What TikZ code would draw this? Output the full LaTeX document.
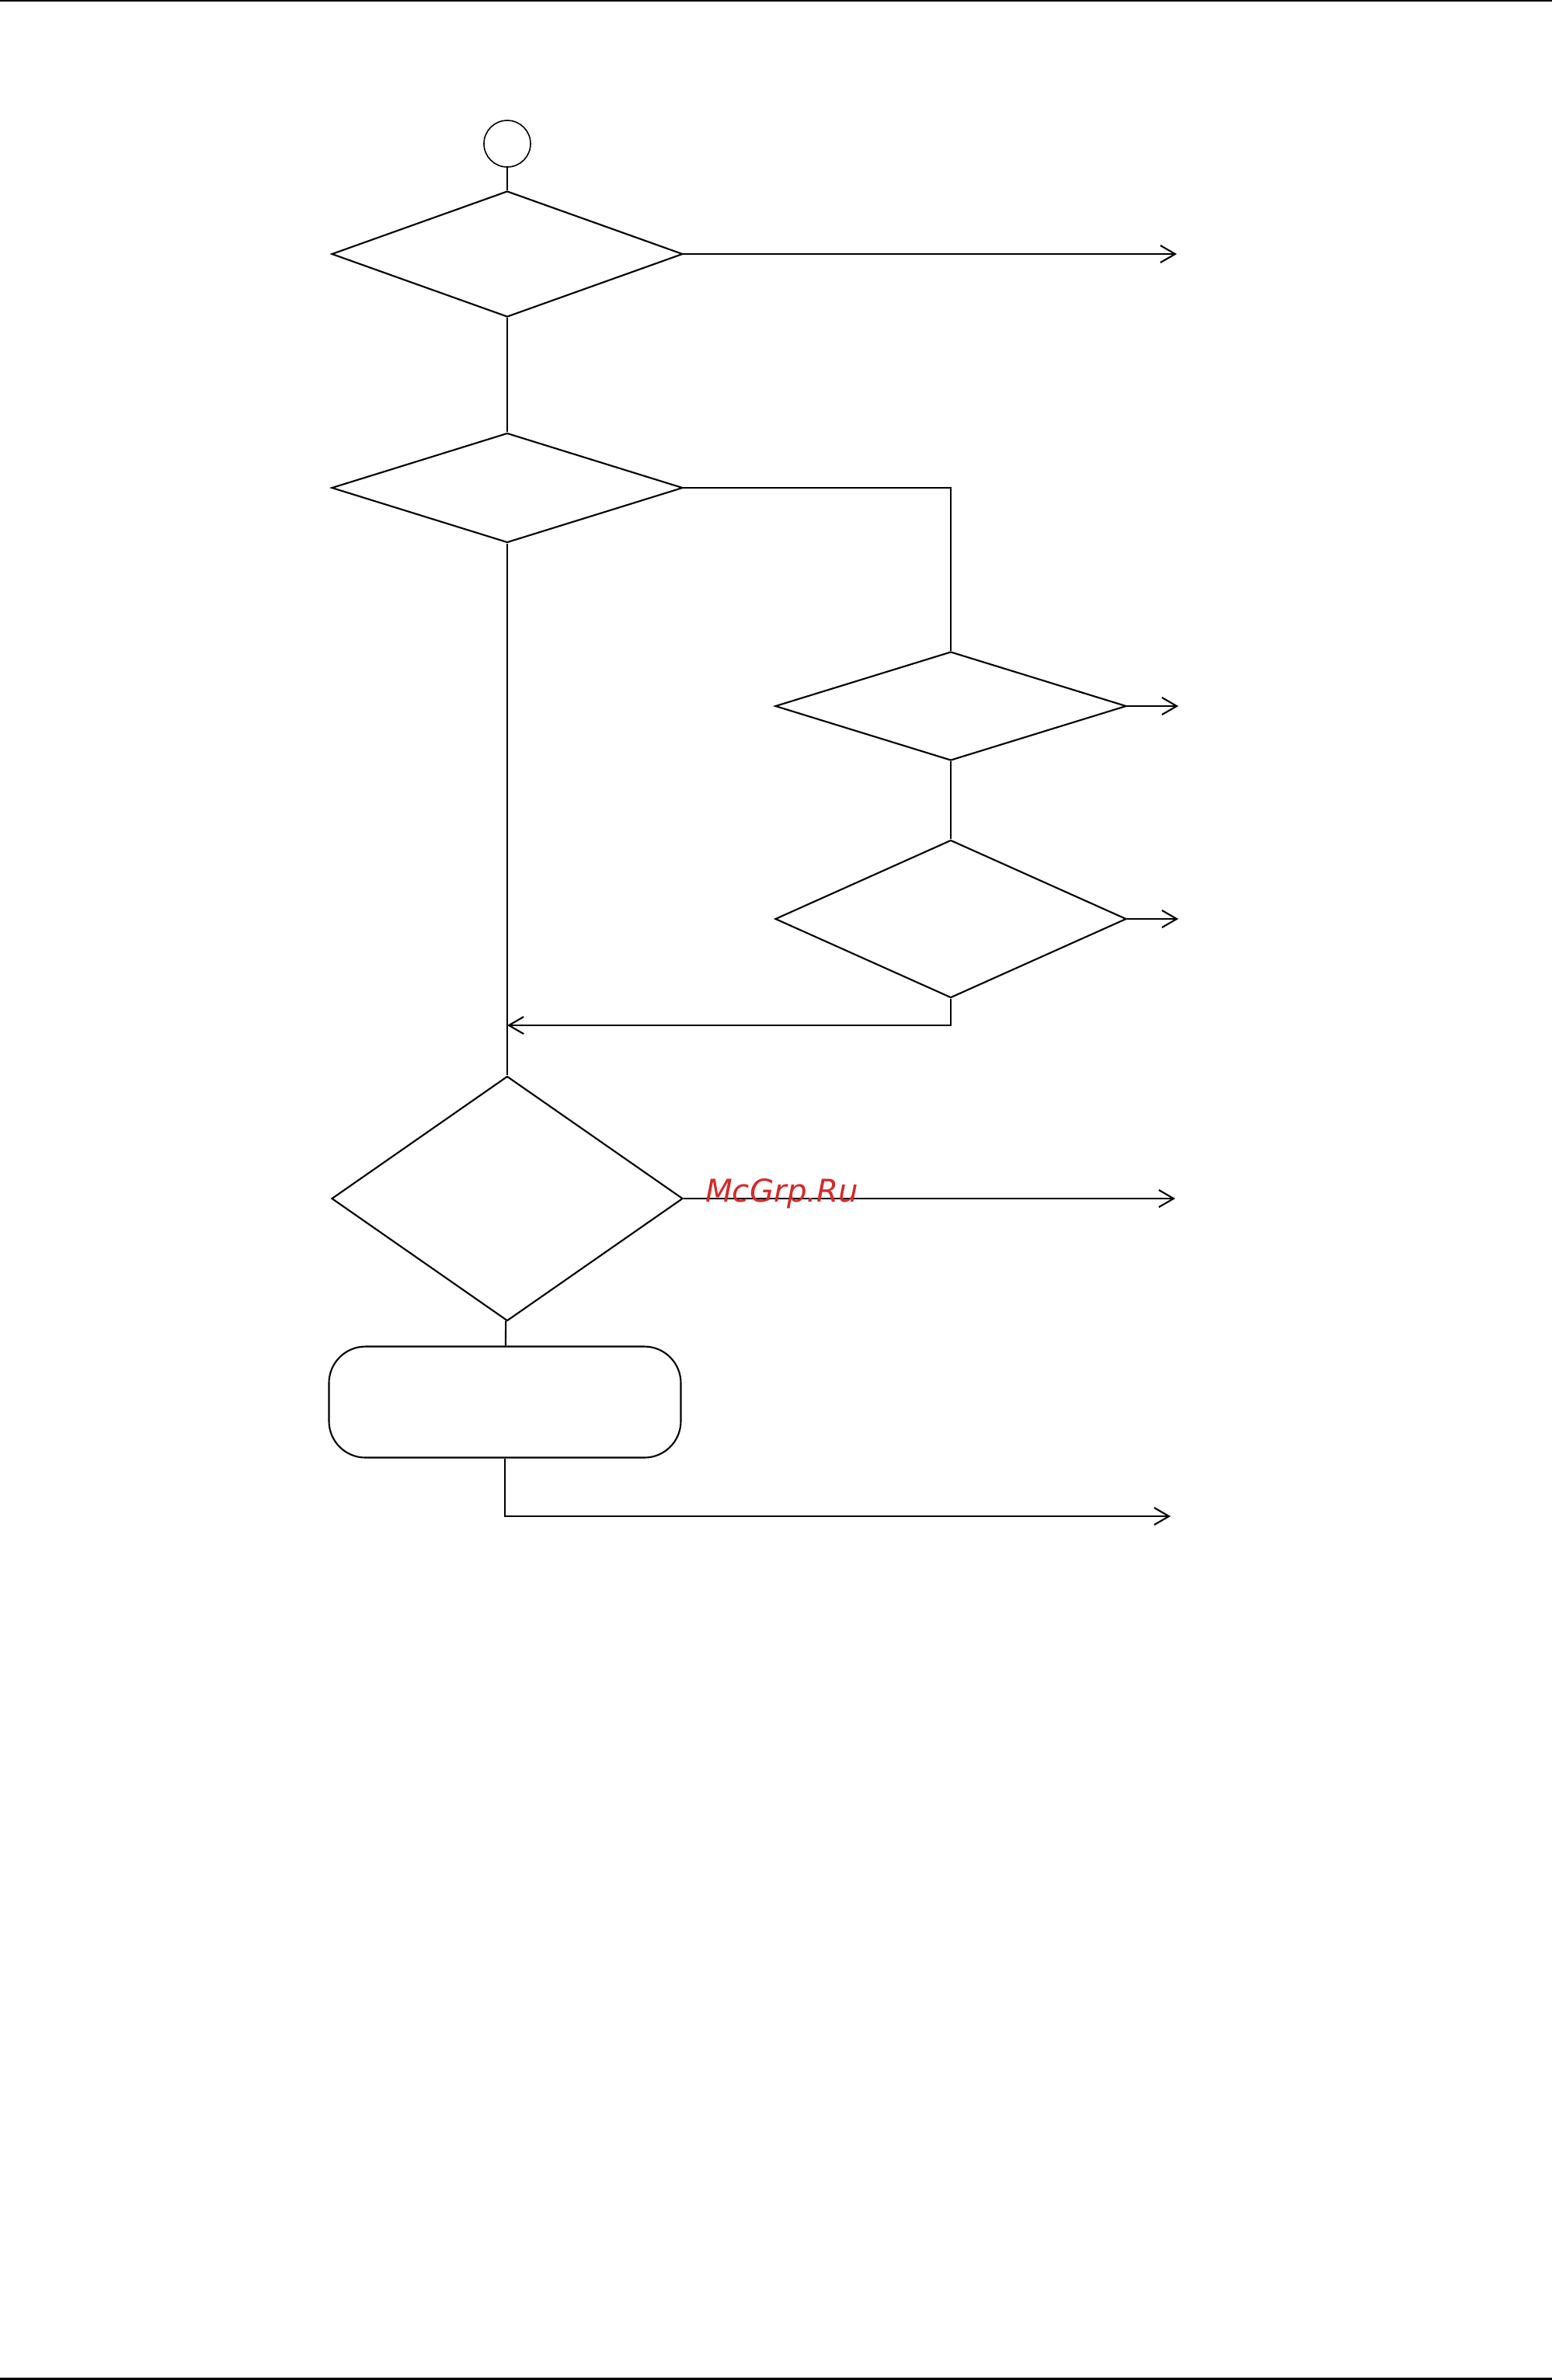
\documentclass[tikz,border=0pt]{standalone}
\usepackage{fontspec}
\usepackage{tikz}
\usetikzlibrary{positioning,arrows.meta,shapes.geometric}
\newfontfamily\wmfont{DejaVu Sans}
\definecolor{wmred}{HTML}{D42A2A}

\begin{document}
\begin{tikzpicture}[
  line width=0.6pt,
  dec/.style={draw, diamond, inner sep=0pt, minimum width=4.52cm},
  term/.style={draw, circle, inner sep=0pt, minimum size=0.6cm, line width=0.45pt},
  proc/.style={draw, rectangle, rounded corners=0.47cm, inner sep=0pt, minimum width=4.53cm, minimum height=1.43cm},
  arr/.style={-{Straight Barb[length=1.9mm, width=2.2mm]}},
  rule/.style={line width=0.7pt}
]
  \useasboundingbox (0,0) rectangle (19.98,-30.64);
  % Linien oben und unten
  \coordinate (rl1) at (0,-0.012);   \coordinate (rr1) at (19.98,-0.012);
  \coordinate (rl2) at (0,-30.625);  \coordinate (rr2) at (19.98,-30.625);
  \draw[rule] (rl1) -- (rr1);
  \draw[rule] (rl2) -- (rr2);

  % Hauptzweig
  \node[term] (start) at (6.53,-1.85) {};
  \node[dec, minimum height=1.62cm] (d1) at (6.53,-3.27) {};
  \node[dec, minimum height=1.41cm] (d2) at (6.53,-6.28) {};
  \node[dec, minimum height=3.15cm] (d5) at (6.53,-15.43) {};
  \node[proc] (box) at (6.50,-18.05) {};
  % Nebenzweig
  \node[dec, minimum height=1.40cm] (d3) at (12.24,-9.09) {};
  \node[dec, minimum height=2.03cm] (d4) at (12.24,-11.83) {};

  % Ausgaenge
  \coordinate (e1) at (15.15,-3.27);
  \coordinate (e3) at (15.17,-9.09);
  \coordinate (e4) at (15.17,-11.83);
  \coordinate (e5) at (15.13,-15.43);
  \coordinate (e6) at (15.07,-19.52);
  \coordinate (join) at (6.53,-13.20);

  \draw (start) -- (d1);
  \draw (d1) -- (d2);
  \draw (d2) -- (d5);
  \draw (d5) -- (box);
  \draw[arr] (d1.east) -- (e1);
  \draw (d2.east) -| (d3.north);
  \draw[arr] (d3.east) -- (e3);
  \draw (d3) -- (d4);
  \draw[arr] (d4.east) -- (e4);
  \draw[arr] (d4.south) |- (join);
  \draw[arr] (d5.east) -- (e5);
  \draw[arr] (box.south) |- (e6);

  % Wasserzeichen
  \node[anchor=base west, inner sep=0pt, text=wmred, font=\wmfont\itshape\fontsize{11.5}{13}\selectfont] (wm) at (9.07,-15.47) {McGrp.Ru};
\end{tikzpicture}
\end{document}
